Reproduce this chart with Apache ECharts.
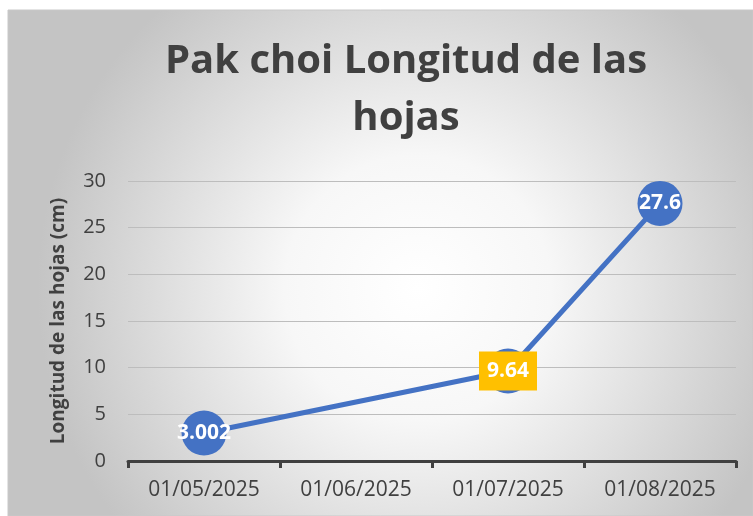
<!DOCTYPE html>
<html>
<head>
<meta charset="utf-8">
<script src="https://cdn.jsdelivr.net/npm/echarts@6/dist/echarts.min.js"></script>
<style>
  html, body { margin: 0; padding: 0; background: #fff; }
  #chart { width: 753px; height: 516px; }
</style>
</head>
<body>
<div id="chart"></div>
<script>
  // months on the date axis; June has no measurement
  var fechas = ['01/05/2025', '01/06/2025', '01/07/2025', '01/08/2025'];
  var longitud = [3.002, null, 9.64, 27.6];
  var yTicks = [0, 30, 5];   // min, max, interval

  var chart = echarts.init(document.getElementById('chart'));
  var font = '"Open Sans", "Noto Sans", sans-serif';

  var puntos = longitud.map(function (v, i) {
    if (v === null) return null;
    var d = { value: v };
    if (i === 2) {
      d.label = {
        backgroundColor: '#FFC000',
        padding: [10, 8, 8, 8]
      };
    }
    return d;
  });

  chart.setOption({
    animation: false,
    graphic: [{
      type: 'rect',
      z: -10,
      silent: true,
      shape: { x: 8, y: 10, width: 745, height: 506 },
      style: {
        fill: new echarts.graphic.RadialGradient(0.55, 0.55, 0.75, [
          { offset: 0, color: '#ffffff' },
          { offset: 0.35, color: '#f7f7f7' },
          { offset: 1, color: '#c4c4c4' }
        ]),
        stroke: '#c8c8c8',
        lineWidth: 1
      }
    }],
    title: {
      text: 'Pak choi Longitud de las\nhojas',
      left: 401,
      top: 28,
      textAlign: 'center',
      textStyle: {
        fontFamily: font,
        fontWeight: 'bold',
        fontSize: 40,
        lineHeight: 57,
        color: '#404040'
      }
    },
    grid: { left: 128, right: 17, top: 181, bottom: 55, containLabel: false },
    xAxis: {
      type: 'category',
      data: fechas,
      boundaryGap: true,
      axisLine: { lineStyle: { color: '#404040', width: 3 } },
      axisTick: { show: true, length: 7, lineStyle: { color: '#404040', width: 3 } },
      axisLabel: { margin: 19, fontFamily: font, fontSize: 21, color: '#404040' }
    },
    yAxis: {
      type: 'value',
      min: yTicks[0],
      max: yTicks[1],
      interval: yTicks[2],
      name: 'Longitud de las hojas (cm)',
      nameLocation: 'middle',
      nameGap: 60,
      nameTextStyle: { fontFamily: font, fontWeight: 'bold', fontSize: 19, color: '#404040' },
      axisLine: { show: false },
      axisTick: { show: false },
      axisLabel: { margin: 22, fontFamily: font, fontSize: 20, color: '#404040' },
      splitLine: { lineStyle: { color: '#bdbdbd', width: 1 } }
    },
    series: [{
      type: 'line',
      data: puntos,
      connectNulls: true,
      symbol: 'circle',
      symbolSize: 45,
      lineStyle: { color: '#4472C4', width: 5 },
      itemStyle: { color: '#4472C4' },
      label: {
        show: true,
        position: 'inside',
        fontFamily: font,
        fontWeight: 'bold',
        fontSize: 21,
        color: '#ffffff'
      }
    }]
  });
</script>
</body>
</html>
